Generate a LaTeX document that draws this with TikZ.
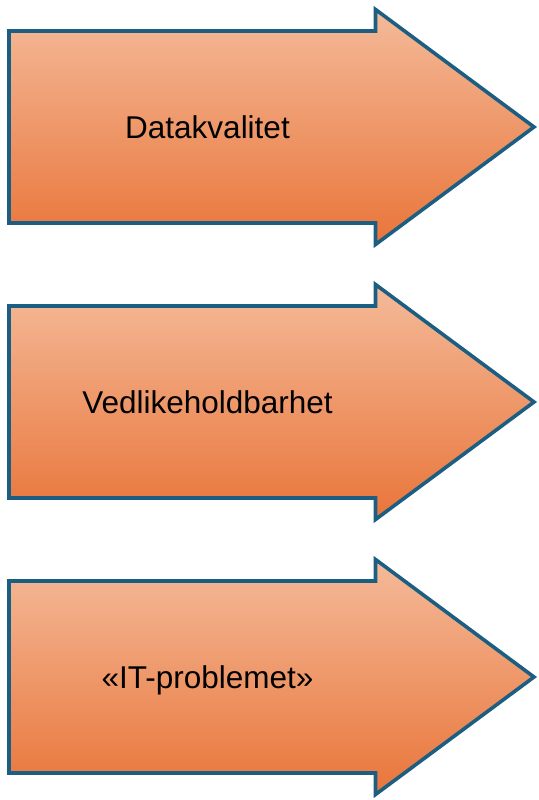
\documentclass[tikz,border=0pt]{standalone}
\usepackage{fontspec}
\setmainfont{Liberation Sans}
\usepackage{tikz}
\usepackage{xcolor}
\usetikzlibrary{calc}
\definecolor{arrowline}{RGB}{28,94,130}
\definecolor{arrowtop}{RGB}{244,186,153}
\definecolor{arrowbot}{RGB}{233,117,58}
\tikzset{blockarrow/.style={draw=arrowline, line width=3.6pt, line join=miter, top color=arrowtop, bottom color=arrowbot}}
\tikzset{arrowtext/.style={inner sep=0pt, anchor=base, font=\fontsize{31.5}{36}\selectfont}}

\begin{document}
\begin{tikzpicture}[x=1pt, y=-1pt]
                        \useasboundingbox (0, 0) rectangle (538, 800);

                        \draw[blockarrow] (9, 31) -- (375.5, 31) -- (375.5, 9.5) -- (534, 127)
                            -- (375.5, 244.5) -- (375.5, 223) -- (9, 223) -- cycle;
                        \draw[blockarrow] (9, 306) -- (375.5, 306) -- (375.5, 284.5) -- (534, 402)
                            -- (375.5, 519.5) -- (375.5, 498) -- (9, 498) -- cycle;
                        \draw[blockarrow] (9, 581) -- (375.5, 581) -- (375.5, 559.5) -- (534, 677)
                            -- (375.5, 794.5) -- (375.5, 773) -- (9, 773) -- cycle;

                        \node[arrowtext] (dk) at (207.5, 138) {Datakvalitet};
                        \node[arrowtext] (vb) at (207.5, 413) {Vedlikeholdbarhet};
                        \node[arrowtext] (it) at (207.5, 688.5) {«IT-problemet»};
                    \end{tikzpicture}
\end{document}
